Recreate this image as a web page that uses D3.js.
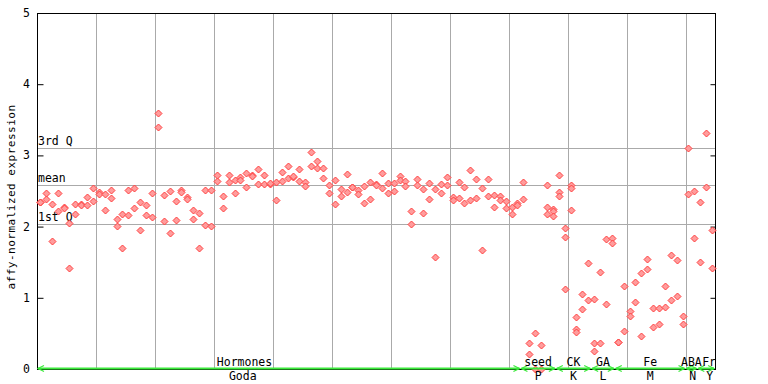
<!DOCTYPE html>
<html>
<head>
<meta charset="utf-8">
<script src="https://cdn.jsdelivr.net/npm/d3@7"></script>
<style>
  html, body { margin: 0; padding: 0; background: #fff; }
  svg { display: block; }
  text { font-family: "DejaVu Sans Mono", monospace; fill: #000; }
</style>
</head>
<body>
<div id="chart"></div>
<script>
// ---- data ----
// replicate values per sample (sample index = position in array)
const sampleValues = [
  [2.35, 2.35], [2.47, 2.39], [2.32, 1.80], [2.47, 2.22], [2.28, 2.26],
  [2.05, 1.42], [2.17, 2.32], [2.32, 2.30], [2.42, 2.31], [2.54, 2.36],
  [2.48, 2.46], [2.46, 2.23], [2.51, 2.40], [2.11, 2.01], [2.17, 1.70],
  [2.51, 2.16], [2.54, 2.26], [2.34, 1.95], [2.30, 2.16], [2.47, 2.13],
  [3.59, 3.40], [2.44, 2.08], [2.50, 1.91], [2.36, 2.09], [2.51, 2.48],
  [2.41, 2.39], [2.23, 2.10], [2.19, 1.70], [2.51, 2.02], [2.51, 2.01],
  [2.72, 2.64], [2.43, 2.26], [2.72, 2.62], [2.65, 2.47], [2.69, 2.65],
  [2.75, 2.55], [2.72, 2.71], [2.81, 2.60], [2.72, 2.60], [2.60, 2.61],
  [2.62, 2.37], [2.76, 2.64], [2.85, 2.68], [2.69, 2.71], [2.81, 2.64],
  [2.62, 2.57], [3.05, 2.85], [2.92, 2.83], [2.83, 2.68], [2.58, 2.47],
  [2.65, 2.32], [2.53, 2.43], [2.74, 2.48], [2.55, 2.56], [2.51, 2.46],
  [2.57, 2.33], [2.62, 2.39], [2.60, 2.58], [2.75, 2.54], [2.61, 2.47],
  [2.61, 2.50], [2.71, 2.65], [2.64, 2.57], [2.22, 2.03], [2.67, 2.58],
  [2.53, 2.19], [2.61, 2.39], [2.53, 1.57], [2.60, 2.47], [2.69, 2.58],
  [2.41, 2.37], [2.62, 2.40], [2.55, 2.33], [2.79, 2.37], [2.67, 2.40],
  [2.54, 1.67], [2.67, 2.43], [2.44, 2.27], [2.43, 2.37], [2.36, 2.26],
  [2.27, 2.17], [2.33, 2.30], [2.62, 2.39], [0.36, 0.21], [0.50, 0.00],
  [0.34, 0.00], [2.58, 2.27, 2.18], [2.25, 2.22, 2.15], [2.72, 2.48, 2.43], [1.98, 1.85, 1.12],
  [2.58, 2.54, 2.23], [0.73, 0.56, 0.52], [1.06, 0.84], [1.49, 0.97], [0.98, 0.36, 0.25],
  [1.36, 0.36], [1.82, 0.91], [1.84, 1.77], [0.38, 0.38], [1.16, 0.53],
  [0.81, 0.75], [1.22, 0.94], [1.35, 0.47], [1.54, 1.40], [0.85, 0.59],
  [0.85, 0.63], [1.16, 0.87], [1.60, 0.97], [1.53, 1.02], [0.74, 0.63],
  [3.10, 2.46], [2.50, 1.84], [2.34, 1.50], [3.31, 2.55], [1.95, 1.42]
];
const sampleCount = 115;

// category segments (sample index ranges) with upper and lower labels
const segStart   = [0,          82,     88,   94,   98,   110,   112];
const segEnd     = [82,         88,     94,   98,   110,  112,   115];
const segTop     = ["Hormones", "seed", "CK", "GA", "Fe", "ABA", "Fr"];
const segBottom  = ["Goda",     "P",    "K",  "L",  "M",  "N",   "Y"];
const labelAt    = [35.2,       85,     91,   96,   104,  111,   114];
const bottomAt   = [34.9,       85,     91,   96,   104,  111.2, 114.1];

// reference lines
const refNames  = ["3rd Q", "mean", "1st Q"];
const refValues = [3.10, 2.59, 2.04];

const yTicks = [0, 1, 2, 3, 4, 5];
const yLabel = "affy-normalized expression";

// ---- layout ----
const W = 768, H = 384;
const L = 37, R = 715, T = 13, B = 369;

const svg = d3.select("#chart").append("svg")
  .attr("width", W).attr("height", H);

const x = d3.scaleLinear().domain([0, sampleCount]).range([L, R]);
const y = d3.scaleLinear().domain([0, 5]).range([B, T]);

const px = v => Math.round(v) + 0.5;

// vertical grid every 10 samples
const gridX = d3.range(10, sampleCount, 10);
svg.append("g").selectAll("line").data(gridX).join("line")
  .attr("x1", d => px(x(d))).attr("x2", d => px(x(d)))
  .attr("y1", T).attr("y2", B)
  .attr("stroke", "#aaaaaa").attr("stroke-width", 1);

// reference lines
svg.append("g").selectAll("line").data(refValues).join("line")
  .attr("x1", L).attr("x2", R)
  .attr("y1", d => px(y(d))).attr("y2", d => px(y(d)))
  .attr("stroke", "#aaaaaa").attr("stroke-width", 1);
svg.append("g").selectAll("text").data(refNames).join("text")
  .attr("x", L + 1)
  .attr("y", (d, i) => Math.round(y(refValues[i])) - 3)
  .attr("font-size", 11.5)
  .text(d => d);

// frame
svg.append("rect")
  .attr("x", L + 0.5).attr("y", T + 0.5)
  .attr("width", R - L).attr("height", B - T)
  .attr("fill", "none").attr("stroke", "#000").attr("stroke-width", 1);

// left axis ticks & labels (ticks pointing inward)
const leftAxis = d3.axisRight(y).tickValues(yTicks).tickSize(6).tickFormat("");
svg.append("g").attr("transform", `translate(${L + 0.5},0)`).call(leftAxis)
  .call(g => g.select(".domain").remove())
  .call(g => g.selectAll("line").attr("stroke", "#000"));
svg.append("g").selectAll("text").data(yTicks).join("text")
  .attr("x", 30).attr("y", d => y(d) + 4)
  .attr("text-anchor", "end").attr("font-size", 11.5)
  .text(d => d);

// right axis ticks (pointing inward)
const rightAxis = d3.axisLeft(y).tickValues(yTicks).tickSize(5).tickFormat("");
svg.append("g").attr("transform", `translate(${R + 0.5},0)`).call(rightAxis)
  .call(g => g.select(".domain").remove())
  .call(g => g.selectAll("line").attr("stroke", "#000"));

// y axis title
svg.append("text")
  .attr("transform", `translate(15,${(T + B) / 2 + 6}) rotate(-90)`)
  .attr("text-anchor", "middle").attr("font-size", 11)
  .attr("letter-spacing", 0.5)
  .text(yLabel);

// points
const pts = [];
sampleValues.forEach((vals, i) => vals.forEach(v => pts.push({ i, v })));
svg.append("g").selectAll("path").data(pts).join("path")
  .attr("d", d => {
    const cx = Math.round(x(d.i + 0.5)) + 0.5, cy = Math.round(y(d.v)) + 0.5, r = 3.5;
    return `M${cx},${cy - r}L${cx + r},${cy}L${cx},${cy + r}L${cx - r},${cy}Z`;
  })
  .attr("fill", "#ff9c9c").attr("stroke", "#ff4040").attr("stroke-width", 1);

// category bar (green line with arrowheads)
const green = "#3cea3c";
const cat = svg.append("g");
segStart.forEach((s, k) => {
  const x0 = x(s) + 1, x1 = x(segEnd[k]) - 1, yy = B - 0.5;
  cat.append("line").attr("x1", x0).attr("x2", x1).attr("y1", yy).attr("y2", yy)
    .attr("stroke", green).attr("stroke-width", 2);
  cat.append("path")
    .attr("d", `M${x0 + 6},${yy - 3}L${x0},${yy}L${x0 + 6},${yy + 3}M${x1 - 6},${yy - 3}L${x1},${yy}L${x1 - 6},${yy + 3}`)
    .attr("fill", "none").attr("stroke", green).attr("stroke-width", 1.2);
});
svg.append("g").selectAll("text").data(segTop).join("text")
  .attr("x", (d, k) => x(labelAt[k])).attr("y", 366)
  .attr("text-anchor", "middle").attr("font-size", 11.5)
  .text(d => d);
svg.append("g").selectAll("text").data(segBottom).join("text")
  .attr("x", (d, k) => x(bottomAt[k])).attr("y", 380)
  .attr("text-anchor", "middle").attr("font-size", 11.5)
  .text(d => d);
</script>
</body>
</html>
